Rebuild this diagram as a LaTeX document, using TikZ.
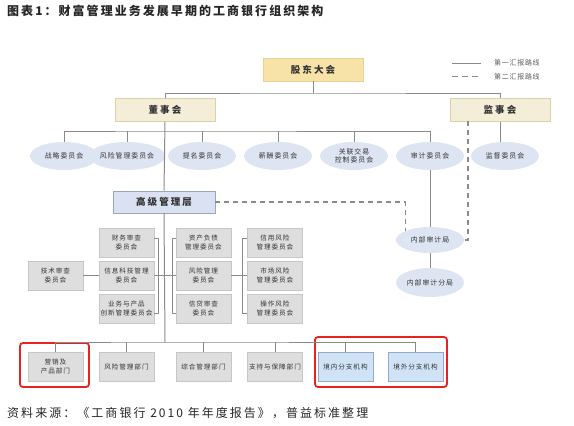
\documentclass[tikz,border=0pt]{standalone}
\usepackage{fontspec}
\setmainfont{Noto Sans CJK SC}
\newfontfamily\cjkA[LetterSpace=14]{Noto Sans CJK SC}
\newfontfamily\cjkT[LetterSpace=17]{Noto Sans CJK SC}
\newfontfamily\cjkB[LetterSpace=22]{Noto Sans CJK SC}
\newfontfamily\cjkC[LetterSpace=10]{Noto Sans CJK SC}
\usetikzlibrary{shapes.geometric,shadows}
\definecolor{linegray}{HTML}{8A8A8A}
\definecolor{goldfill}{HTML}{F7E3A8}
\definecolor{golddraw}{HTML}{E9D291}
\definecolor{beigefill}{HTML}{F4EED8}
\definecolor{beigedraw}{HTML}{DDD0A6}
\definecolor{bluefill}{HTML}{D9E1F2}
\definecolor{bluedraw}{HTML}{9AA6BA}
\definecolor{ellfill}{HTML}{DDE4F2}
\definecolor{grayfill}{HTML}{DEDEDE}
\definecolor{graydraw}{HTML}{C6C6C6}
\definecolor{branchfill}{HTML}{CFE2F6}
\definecolor{branchdraw}{HTML}{93AAC4}
\definecolor{redline}{HTML}{E8221E}
\definecolor{txt}{HTML}{333333}
\tikzset{
  conn/.style={draw=linegray, line width=1pt},
  dashline/.style={draw=linegray, line width=1.2pt, dash pattern=on 5pt off 4pt},
  topbox/.style={rectangle, fill=goldfill, draw=golddraw, line width=0.8pt, minimum width=100pt, minimum height=23pt, inner sep=0pt, text=txt, font=\cjkB\bfseries\fontsize{9.5}{11}\selectfont},
  boardbox/.style={rectangle, fill=beigefill, draw=beigedraw, line width=0.8pt, minimum width=100pt, minimum height=23pt, inner sep=0pt, text=txt, font=\cjkB\bfseries\fontsize{9.5}{11}\selectfont, drop shadow={shadow xshift=0.8pt, shadow yshift=-0.8pt, fill=black!25}},
  mgmtbox/.style={rectangle, fill=bluefill, draw=bluedraw, line width=0.8pt, minimum width=102pt, minimum height=22pt, inner sep=0pt, text=txt, font=\cjkB\bfseries\fontsize{9.5}{11}\selectfont, drop shadow={shadow xshift=0.8pt, shadow yshift=-0.8pt, fill=black!25}},
  comm/.style={ellipse, fill=ellfill, minimum width=68pt, minimum height=28pt, inner sep=0pt, align=center, text=txt, font=\cjkA\fontsize{6.9}{7.6}\selectfont},
  gbox/.style={rectangle, fill=grayfill, draw=graydraw, line width=0.8pt, minimum width=55pt, minimum height=29pt, inner sep=0pt, align=center, text=txt, font=\cjkA\fontsize{6.6}{9.5}\selectfont},
  bbox/.style={rectangle, fill=branchfill, draw=branchdraw, line width=0.8pt, minimum width=55pt, minimum height=29pt, inner sep=0pt, align=center, text=txt, font=\cjkA\fontsize{6.6}{9.5}\selectfont, drop shadow={shadow xshift=0.8pt, shadow yshift=-0.8pt, fill=black!25}},
  redbox/.style={rectangle, draw=redline, line width=1.8pt, rounded corners=3pt, inner sep=0pt},
  legtext/.style={anchor=west, inner sep=0pt, text=black!65, font=\cjkC\fontsize{7}{8}\selectfont},
}
\begin{document}
\begin{tikzpicture}[x=1pt,y=-1pt]
\useasboundingbox (0,0) rectangle (574,426);
% title and source
\node[anchor=west, inner sep=0pt, text=black!85, font=\cjkT\bfseries\fontsize{12}{14}\selectfont] (title) at (7,10.5) {图表1：财富管理业务发展早期的工商银行组织架构};
\node[anchor=west, inner sep=0pt, text=black!85, font=\cjkT\fontsize{12}{14}\selectfont] (source) at (7,413) {资料来源：《工商银行 2010 年年度报告》，普益标准整理};
% legend
\coordinate (l1a) at (452,63); \coordinate (l1b) at (481,63);
\coordinate (l2a) at (452,76.5); \coordinate (l2b) at (481,76.5);
\draw[conn, line width=0.8pt] (l1a) -- (l1b);
\draw[dashline, line width=0.9pt, dash pattern=on 6pt off 4pt] (l2a) -- (l2b);
\node[legtext] (leg1) at (494,63) {第一汇报路线};
\node[legtext] (leg2) at (494,76.5) {第二汇报路线};
% top level
\node[topbox] (sh) at (313,69.5) {股东大会};
\node[boardbox] (bd) at (165,110) {董事会};
\node[boardbox] (sv) at (500,110) {监事会};
\node[mgmtbox] (sm) at (164,202) {高级管理层};
% committees
\node[comm] (e1) at (64,156) {战略委员会};
\node[comm] (e2) at (127,156) {风险管理委员会};
\node[comm] (e3) at (202,156) {提名委员会};
\node[comm] (e4) at (278,156) {薪酬委员会};
\node[comm] (e5) at (354,156) {关联交易\\控制委员会};
\node[comm] (e6) at (430,156) {审计委员会};
\node[comm] (e7) at (505,156) {监督委员会};
\node[comm, minimum height=26pt] (ia) at (430,240) {内部审计局};
\node[comm, minimum height=29pt] (iab) at (430,282.5) {内部审计分局};
% management committees
\node[gbox] (tech) at (55.5,275.5) {技术审查\\委员会};
\node[gbox] (c1a) at (126.5,242.5) {财务审查\\委员会};
\node[gbox] (c1b) at (126.5,275.5) {信息科技管理\\委员会};
\node[gbox] (c1c) at (126.5,308.5) {业务与产品\\创新管理委员会};
\node[gbox] (c2a) at (203.5,242.5) {资产负债\\管理委员会};
\node[gbox] (c2b) at (203.5,275.5) {风险管理\\委员会};
\node[gbox] (c2c) at (203.5,308.5) {信贷审查\\委员会};
\node[gbox] (c3a) at (275,242.5) {信用风险\\管理委员会};
\node[gbox] (c3b) at (275,275.5) {市场风险\\管理委员会};
\node[gbox] (c3c) at (275,308.5) {操作风险\\管理委员会};
% departments
\node[gbox] (d1) at (55.5,366.5) {营销及\\产品部门};
\node[gbox] (d2) at (126.5,366.5) {风险管理部门};
\node[gbox] (d3) at (203.5,366.5) {综合管理部门};
\node[gbox] (d4) at (275,366.5) {支持与保障部门};
\node[bbox] (d5) at (345.5,366.5) {境内分支机构};
\node[bbox] (d6) at (415.5,366.5) {境外分支机构};
% red highlight boxes
\node[redbox, minimum width=69pt, minimum height=44pt] (r1) at (54.5,365) {};
\node[redbox, minimum width=132pt, minimum height=50pt] (r2) at (381,362) {};
% helper coordinates
\coordinate (j1) at (313,93);
\coordinate (j2) at (165,131);
\coordinate (j3) at (165,342);
\coordinate (xb1) at (158,0);
\coordinate (xb2) at (172,0);
\coordinate (xb3) at (242,0);
\coordinate (dv) at (468,121);
% solid connectors
\draw[conn] (sh.south) -- (j1);
\draw[conn] (bd.north) |- (j1) -| (sv.north);
\draw[conn] (bd.south) -- (sm.north);
\draw[conn] (e1.north) |- (j2) -| (e6.north);
\draw[conn] (e2.north) -- (e2.north |- j2);
\draw[conn] (e3.north) -- (e3.north |- j2);
\draw[conn] (e4.north) -- (e4.north |- j2);
\draw[conn] (e5.north) -- (e5.north |- j2);
\draw[conn] (sv.south) -- (sv.south |- e7.north);
\draw[conn] (e6.south) -- (ia.north);
\draw[conn] (ia.south) -- (iab.north);
\draw[conn] (sm.south) -- (j3);
\draw[conn] (d1.north) |- (j3) -| (d6.north);
\draw[conn] (d2.north) -- (d2.north |- j3);
\draw[conn] (d3.north) -- (d3.north |- j3);
\draw[conn] (d4.north) -- (d4.north |- j3);
\draw[conn] (d5.north) -- (d5.north |- j3);
% committee brackets
\draw[conn] (tech.east) -- (c1b.west);
\draw[conn] ([yshift=4pt]c1a.east) -- ([yshift=4pt]c1a.east -| xb1) -- ([yshift=-5pt]c1c.east -| xb1) -- ([yshift=-5pt]c1c.east);
\draw[conn] ([yshift=4pt]c2a.west) -- ([yshift=4pt]c2a.west -| xb2) -- ([yshift=-5pt]c2c.west -| xb2) -- ([yshift=-5pt]c2c.west);
\draw[conn] ([yshift=4pt]c3a.west) -- ([yshift=4pt]c3a.west -| xb3) -- ([yshift=-5pt]c3c.west -| xb3) -- ([yshift=-5pt]c3c.west);
\draw[conn] (c1b.east) -- (c2b.west);
\draw[conn] (c2b.east) -- (c3b.west);
% dashed connectors
\draw[dashline] (dv) |- (ia.east);
\draw[dashline] (sm.east) -| (ia.north west);
\end{tikzpicture}
\end{document}
